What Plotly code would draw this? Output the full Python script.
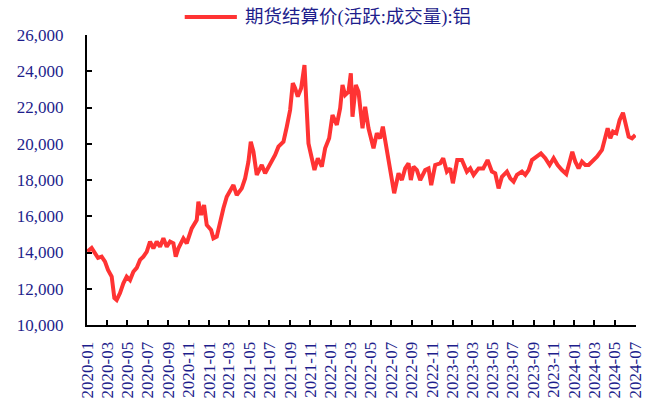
import plotly.graph_objects as go

# 期货结算价(活跃:成交量):铝，从图上读取的近似值
dates_2020 = ['2020-01-02', '2020-01-15', '2020-02-03', '2020-02-14', '2020-02-24',
              '2020-03-04', '2020-03-15', '2020-03-23', '2020-03-30', '2020-04-09',
              '2020-04-19', '2020-04-29', '2020-05-09', '2020-05-19', '2020-05-29',
              '2020-06-08', '2020-06-18', '2020-06-28', '2020-07-08', '2020-07-18',
              '2020-07-28', '2020-08-07', '2020-08-17', '2020-08-27', '2020-09-06',
              '2020-09-16', '2020-09-23', '2020-10-01', '2020-10-16', '2020-10-26',
              '2020-11-10', '2020-11-25', '2020-11-30', '2020-12-08', '2020-12-17',
              '2020-12-25']
price_2020 = [14050, 14250, 13700, 13770, 13500, 13040, 12670, 11490, 11380, 11760,
              12300, 12670, 12480, 12940, 13150, 13590, 13770, 14040, 14600, 14230,
              14600, 14320, 14780, 14320, 14600, 14510, 13770, 14230, 14780, 14510,
              15330, 15790, 16800, 16070, 16620, 15520]

dates_2021 = ['2021-01-07', '2021-01-14', '2021-01-24', '2021-02-03', '2021-02-13',
              '2021-02-23', '2021-03-05', '2021-03-15', '2021-03-25', '2021-04-09',
              '2021-04-19', '2021-04-29', '2021-05-06', '2021-05-14', '2021-05-24',
              '2021-06-08', '2021-06-18', '2021-07-03', '2021-07-18', '2021-07-28',
              '2021-08-12', '2021-08-22', '2021-09-01', '2021-09-09', '2021-09-16',
              '2021-09-24', '2021-10-04', '2021-10-14', '2021-10-21', '2021-10-26',
              '2021-11-05', '2021-11-13', '2021-11-23', '2021-12-05', '2021-12-15',
              '2021-12-27']
price_2021 = [15240, 14780, 14870, 15700, 16440, 17080, 17450, 17720, 17170, 17540,
              18090, 19010, 20110, 19560, 18280, 18830, 18370, 18830, 19380, 19840,
              20110, 20940, 21860, 23340, 23060, 22600, 23060, 24340, 22140, 20020,
              19200, 18550, 19200, 18730, 19750, 20300]

dates_2022 = ['2022-01-06', '2022-01-19', '2022-01-29', '2022-02-05', '2022-02-13',
              '2022-02-23', '2022-03-02', '2022-03-07', '2022-03-17', '2022-03-25',
              '2022-04-06', '2022-04-14', '2022-04-24', '2022-05-09', '2022-05-19',
              '2022-05-29', '2022-06-06', '2022-06-13', '2022-06-23', '2022-07-03',
              '2022-07-10', '2022-07-23', '2022-08-02', '2022-08-12', '2022-08-22',
              '2022-08-29', '2022-09-06', '2022-09-16', '2022-09-26', '2022-10-11',
              '2022-10-21', '2022-10-29', '2022-11-10', '2022-11-25', '2022-12-04',
              '2022-12-15', '2022-12-25']
price_2022 = [21590, 21040, 21960, 23240, 22690, 22870, 23890, 21490, 23240, 22870,
              20850, 22040, 20850, 19750, 20580, 20300, 20940, 20210, 19200, 18180,
              17270, 18370, 18000, 18640, 18920, 18000, 18730, 18550, 18000, 18550,
              18640, 17720, 18830, 18920, 19200, 18460, 18640]

dates_2023 = ['2023-01-02', '2023-01-15', '2023-01-29', '2023-02-13', '2023-02-23',
              '2023-03-05', '2023-03-20', '2023-04-03', '2023-04-16', '2023-04-29',
              '2023-05-09', '2023-05-19', '2023-05-29', '2023-06-13', '2023-06-23',
              '2023-07-03', '2023-07-13', '2023-07-28', '2023-08-07', '2023-08-17',
              '2023-08-27', '2023-09-11', '2023-09-23', '2023-10-06', '2023-10-19',
              '2023-10-31', '2023-11-12', '2023-11-25', '2023-12-08', '2023-12-18',
              '2023-12-26']
price_2023 = [17820, 19100, 19100, 18460, 18640, 18280, 18640, 18640, 19100, 18460,
              18370, 17540, 18180, 18460, 18090, 17910, 18280, 18460, 18280, 18550,
              19100, 19290, 19470, 19200, 18830, 19200, 18830, 18550, 18330, 19010,
              19560]

dates_2024 = ['2024-01-04', '2024-01-14', '2024-01-24', '2024-02-03', '2024-02-13',
              '2024-02-23', '2024-03-09', '2024-03-24', '2024-04-03', '2024-04-10',
              '2024-04-18', '2024-04-26', '2024-05-06', '2024-05-16', '2024-05-26',
              '2024-06-02', '2024-06-12', '2024-06-22', '2024-07-02']
price_2024 = [19010, 18640, 19010, 18830, 18830, 19010, 19290, 19660, 20390, 20850,
              20300, 20670, 20580, 21310, 21710, 21130, 20390, 20300, 20480]

dates = dates_2020 + dates_2021 + dates_2022 + dates_2023 + dates_2024
prices = price_2020 + price_2021 + price_2022 + price_2023 + price_2024

series_name = '期货结算价(活跃:成交量):铝'

RED = '#FF3333'
NAVY = '#1E1E8C'
FONT = '"Liberation Serif", "Noto Sans CJK SC", serif'

fig = go.Figure()
fig.add_trace(go.Scatter(
    x=dates, y=prices, mode='lines', name=series_name,
    line=dict(color=RED, width=4), showlegend=False
))

# 图例（手工画在顶部）
fig.add_shape(type='line', xref='paper', yref='paper',
              x0=0.178, x1=0.273, y0=1.062, y1=1.062,
              line=dict(color=RED, width=4))
fig.add_annotation(text=series_name, xref='paper', yref='paper',
                   x=0.284, y=1.062, xanchor='left', yanchor='middle',
                   showarrow=False, font=dict(family=FONT, size=18.5, color=NAVY))

fig.update_layout(
    width=662, height=409,
    margin=dict(l=87, r=26, t=35, b=84),
    paper_bgcolor='white',
    plot_bgcolor='white',
    showlegend=False,
    xaxis=dict(
        type='date', range=['2020-01-01', '2024-07-04'],
        tickmode='linear', tick0='2020-01-01', dtick='M2', tickformat='%Y-%m',
        tickangle=-90, ticks='inside', ticklen=5, tickwidth=2, tickcolor='black',
        showline=True, linecolor='black', linewidth=2,
        showgrid=False, zeroline=False, ticklabelstandoff=8,
        tickfont=dict(family=FONT, size=17, color=NAVY)
    ),
    yaxis=dict(
        range=[10000, 26000], dtick=2000, tickformat=',',
        ticks='inside', ticklen=5, tickwidth=2, tickcolor='black',
        showline=True, linecolor='black', linewidth=2,
        showgrid=False, zeroline=False, ticklabelstandoff=18,
        tickfont=dict(family=FONT, size=17, color=NAVY)
    )
)

# 去掉页面默认的 8px 边距，并隐藏工具栏
fig.write_html('out.html', config={'displayModeBar': False},
               post_script="document.body.style.margin='0';")
